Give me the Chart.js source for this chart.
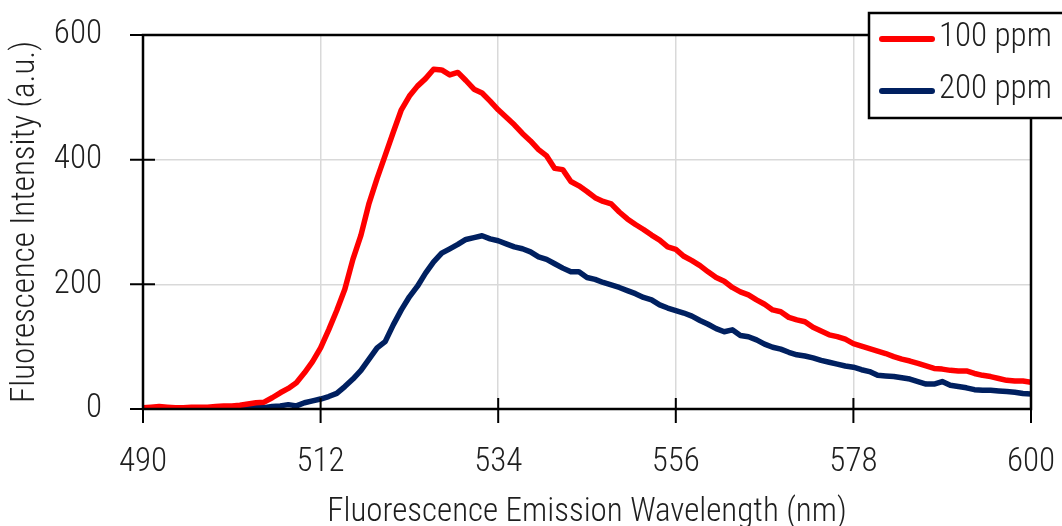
<!DOCTYPE html>
<html>
<head>
<meta charset="utf-8">
<script src="https://cdn.jsdelivr.net/npm/chart.js@4.4.1/dist/chart.umd.min.js"></script>
<style>
  html, body { margin: 0; padding: 0; background: #fff; }
  #wrap { width: 1062px; height: 526px; }
</style>
</head>
<body>
<div id="wrap"><canvas id="chart"></canvas></div>
<script>
// wavelength in nm, one reading per nm
const wavelengths = [];
for (let nm = 490; nm <= 600; nm++) wavelengths.push(nm);

const ppm100 = [
  2, 3, 4, 3, 2, 2, 3, 3, 3, 4,
  5, 5, 6, 8, 10, 11, 18, 26, 33, 42,
  58, 76, 98, 127, 158, 192, 240, 279, 330, 370,
  407, 444, 480, 502, 518, 530, 545, 544, 536, 540,
  527, 513, 507, 494, 480, 468, 456, 442, 430, 416,
  406, 386, 384, 365, 358, 349, 339, 333, 329, 316,
  305, 296, 288, 279, 271, 260, 256, 245, 238, 230,
  220, 211, 205, 195, 188, 183, 175, 168, 159, 156,
  147, 143, 140, 131, 125, 119, 116, 112, 105, 101,
  97, 93, 89, 84, 80, 77, 73, 69, 65, 64,
  62, 61, 61, 57, 54, 52, 49, 46, 45, 45,
  43,
];

const ppm200 = [
  0, 1, 3, 1, 2, 1, 0, 0, 1, 2,
  2, 2, 3, 2, 2, 2, 4, 5, 7, 5,
  10, 13, 16, 20, 25, 36, 48, 62, 80, 98,
  108, 135, 159, 180, 197, 218, 236, 250, 257, 264,
  272, 275, 278, 273, 270, 265, 260, 257, 252, 244,
  240, 233, 226, 220, 220, 211, 208, 203, 199, 195,
  190, 185, 179, 175, 167, 162, 158, 154, 149, 142,
  136, 129, 124, 127, 118, 116, 111, 104, 99, 96,
  91, 87, 85, 82, 78, 75, 72, 69, 67, 63,
  60, 54, 53, 52, 50, 48, 44, 40, 40, 44,
  38, 36, 34, 31, 30, 30, 29, 28, 27, 25,
  24,
];

const xTicks = [490, 512, 534, 556, 578, 600];
const yTicks = [0, 200, 400, 600];

const FONT = '"Roboto Condensed", "Open Sans", sans-serif';
const FONT_SIZE = 33;
const TEXT = '#1e1e1e';

const toPoints = values => values.map((v, i) => ({ x: wavelengths[i], y: v }));

// black frame round the plot plus ticks that cross the axis lines
const framePlugin = {
  id: 'frame',
  afterDatasetsDraw(chart) {
    const { ctx, chartArea: a, scales } = chart;
    ctx.save();
    ctx.strokeStyle = '#000';
    ctx.lineWidth = 2.5;
    ctx.strokeRect(a.left, a.top, a.right - a.left, a.bottom - a.top);
    ctx.lineWidth = 2;
    ctx.beginPath();
    xTicks.forEach(t => {
      const px = scales.x.getPixelForValue(t);
      ctx.moveTo(px, a.bottom - 11);
      ctx.lineTo(px, a.bottom + 14);
    });
    yTicks.forEach(t => {
      const py = scales.y.getPixelForValue(t);
      ctx.moveTo(a.left - 13, py);
      ctx.lineTo(a.left + 12, py);
    });
    ctx.stroke();
    ctx.restore();
  },
};

// boxed legend in the top right corner, cut off by the canvas edge
const legendBoxPlugin = {
  id: 'legendBox',
  afterDraw(chart) {
    const { ctx } = chart;
    const left = 869, top = 13, height = 105;
    ctx.save();
    ctx.fillStyle = '#fff';
    ctx.fillRect(left, top, chart.width - left + 5, height);
    ctx.strokeStyle = '#000';
    ctx.lineWidth = 2.5;
    ctx.strokeRect(left, top, chart.width - left + 5, height);
    ctx.font = `300 ${FONT_SIZE}px ${FONT}`;
    ctx.textBaseline = 'middle';
    ctx.lineCap = 'round';
    chart.data.datasets.forEach((ds, i) => {
      const y = top + 26 + i * 52;
      ctx.strokeStyle = ds.borderColor;
      ctx.lineWidth = 6;
      ctx.beginPath();
      ctx.moveTo(882, y);
      ctx.lineTo(932, y);
      ctx.stroke();
      ctx.fillStyle = TEXT;
      ctx.fillText(ds.label, 939, y - 1);
    });
    ctx.restore();
  },
};

// keep the plot area where the reference has it: no extra room for label overhang
const fitX = scale => {
  scale.height = 117;
  scale.paddingLeft = 0;
  scale.paddingRight = 0;
};
const fitY = scale => {
  scale.width = 143;
  scale.paddingTop = 0;
  scale.paddingBottom = 0;
};

new Chart(document.getElementById('chart'), {
  type: 'line',
  data: {
    datasets: [
      {
        label: '100 ppm',
        data: toPoints(ppm100),
        borderColor: '#ff0000',
        borderWidth: 5.5,
        pointRadius: 0,
        tension: 0,
        borderJoinStyle: 'round',
      },
      {
        label: '200 ppm',
        data: toPoints(ppm200),
        borderColor: '#002060',
        borderWidth: 5.5,
        pointRadius: 0,
        tension: 0,
        borderJoinStyle: 'round',
      },
    ],
  },
  options: {
    responsive: true,
    maintainAspectRatio: false,
    animation: false,
    layout: { padding: { left: 0, top: 35, right: 31, bottom: 0 } },
    plugins: {
      legend: { display: false },
      tooltip: { enabled: false },
    },
    scales: {
      x: {
        type: 'linear',
        min: 490,
        max: 600,
        afterBuildTicks: scale => {
          scale.ticks = xTicks.map(v => ({ value: v }));
        },
        afterFit: fitX,
        grid: { color: '#d9d9d9', lineWidth: 1.5, drawTicks: false },
        border: { display: false },
        ticks: {
          padding: 34,
          color: TEXT,
          font: { family: FONT, size: FONT_SIZE, weight: 300 },
          maxRotation: 0,
        },
        title: {
          display: true,
          text: 'Fluorescence Emission Wavelength (nm)',
          color: TEXT,
          font: { family: FONT, size: FONT_SIZE, weight: 300, lineHeight: 0.8 },
          padding: 0,
        },
      },
      y: {
        min: 0,
        max: 600,
        afterBuildTicks: scale => {
          scale.ticks = yTicks.map(v => ({ value: v }));
        },
        afterFit: fitY,
        grid: { color: '#d9d9d9', lineWidth: 1.5, drawTicks: false },
        border: { display: false },
        ticks: {
          padding: 41,
          color: TEXT,
          font: { family: FONT, size: FONT_SIZE, weight: 300 },
        },
        title: {
          display: true,
          text: 'Fluorescence Intensity (a.u.)',
          color: TEXT,
          font: { family: FONT, size: FONT_SIZE, weight: 300 },
          padding: { top: 6, bottom: 0 },
        },
      },
    },
  },
  plugins: [framePlugin, legendBoxPlugin],
});
</script>
</body>
</html>
